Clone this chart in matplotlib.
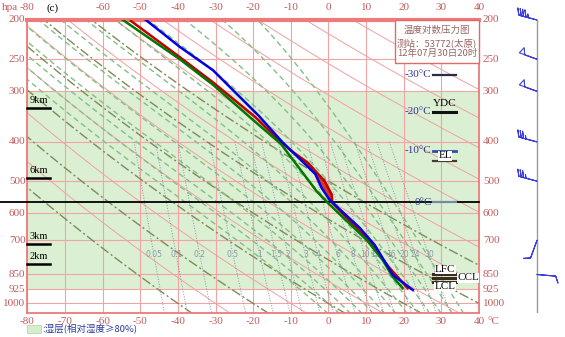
import numpy as np
import matplotlib
matplotlib.use("Agg")
import matplotlib.pyplot as plt
from matplotlib.patches import Rectangle
from matplotlib import transforms as mtransforms
from matplotlib.ticker import NullLocator

# sounding (p in hPa, T in degC)
P_RED = [201, 247, 285, 347, 395, 420, 450, 500, 540, 565, 684, 818, 918]
T_RED = [-52.5, -39.5, -30.7, -19.5, -13.3, -10.0, -5.5, -1.0, 0.9, 1.0, 9.6, 16.2, 21.0]
P_GREEN = [200, 250, 289, 350, 405, 530, 563, 699, 783, 862, 918]
T_GREEN = [-54.6, -39.5, -30.7, -20.5, -12.6, -3.1, -0.4, 10.2, 14.4, 17.1, 19.7]
P_BLUE = [200, 233, 266, 345, 400, 480, 520, 556, 652, 719, 852, 928]
T_BLUE = [-48.5, -39.5, -30.7, -18.5, -12.3, -3.5, -1.8, 0.3, 8.3, 12.3, 17.1, 22.4]

# winds
P_WIND = [200, 250, 300, 400, 500, 700, 850]
SPD_WIND = [18, 20, 20, 14, 14, 4, 4]
DIR_WIND = [285, 290, 290, 285, 285, 200, 95]

# chart furniture
P_GRID = [200, 250, 300, 400, 500, 600, 700, 850, 925, 1000]
T_GRID = list(range(-80, 41, 10))
TOP_LABELS = [-80, -60, -50, -40, -30, -20, -10, 0, 10, 20, 30, 40]
THETA_PINK = list(range(243, 504, 20))
THETA_OLIVE = list(range(233, 334, 20))
T0_MOIST = list(range(0, 37, 3))
W_MIX = [0.05, 0.1, 0.2, 0.5, 1, 1.5, 2, 3, 4, 6, 8, 10, 12, 16, 20, 24, 30]
W_LABELS = ["0.05", "0.1", "0.2", "0.5", "1", "1.5", "2", "3", "4", "6", "8", "10", "12", "16", "20", "24", "30"]
WET_LAYER = (925, 300)
P_ZERO = 563
HEIGHTS = [("9km", 330), ("6km", 491), ("3km", 715), ("2km", 801)]

W, H = 565, 337
L, R, TOP, BOT = 27.4, 479, 20, 313
P_BOT = 1058
RED_TXT = "#c25b5b"
SERIF = "Liberation Serif"
CJK = ["Noto Sans CJK SC", "DejaVu Sans"]


def fx(x):
    return x / W


def fy(y):
    return 1 - y / H


def moist_adiabats(t0, p):
    Rd, Cp, Lv, eps = 287.04, 1004.6, 2.501e6, 0.622

    def f(tk, lp):
        pp = np.exp(lp)
        es = 6.112 * np.exp(17.67 * (tk - 273.15) / (tk - 29.65))
        rs = eps * es / (pp - es)
        return (Rd * tk + Lv * rs) / (Cp + Lv ** 2 * rs * eps / (Rd * tk ** 2))

    lnp = np.log(p)
    out = np.empty((len(p), len(t0)))
    tk = np.asarray(t0, float) + 273.15
    out[0] = tk
    for i in range(len(p) - 1):
        h = lnp[i + 1] - lnp[i]
        k1 = f(tk, lnp[i])
        k2 = f(tk + h / 2 * k1, lnp[i] + h / 2)
        k3 = f(tk + h / 2 * k2, lnp[i] + h / 2)
        k4 = f(tk + h * k3, lnp[i + 1])
        tk = tk + h / 6 * (k1 + 2 * k2 + 2 * k3 + k4)
        out[i + 1] = tk
    return out - 273.15


def mixing_line(w, p):
    e = w * 1e-3 * p / (0.622 + w * 1e-3)
    x = np.log(e / 6.112)
    td = 243.5 * x / (17.67 - x)
    ice = 272.62 * x / (22.46 - x)
    return np.where(td < 0, ice, td)


fig = plt.figure(figsize=(W / 100, H / 100), dpi=100)
ax = fig.add_axes([fx(L), fy(BOT), (R - L) / W, (BOT - TOP) / H])
ax.set_yscale("log")
ax.set_ylim(P_BOT, 200)
ax.set_xlim(-80, 40)
ax.set_xticks([])
ax.set_yticks([])
ax.yaxis.set_minor_locator(NullLocator())
for s in ax.spines.values():
    s.set_color("#ee7a7a")
    s.set_linewidth(1.3)
ax.spines["top"].set_linewidth(3)

# wet layer
ax.axhspan(*WET_LAYER, color="#dbf0d3", lw=0, zorder=0)

# grid
for t in T_GRID:
    ax.axvline(t, color="#f2a4a4", lw=0.8, zorder=1)
for p in P_GRID:
    ax.axhline(p, color="#f2a4a4", lw=0.8, zorder=1)

# dry adiabats
pp = np.geomspace(P_BOT + 5, 195, 200)
for th in THETA_PINK:
    ax.plot(th * (pp / 1000) ** 0.2857 - 273.15, pp, color="#f0a0a0", lw=0.7, zorder=1)
for th in THETA_OLIVE:
    ax.plot(th * (pp / 1000) ** 0.2857 - 273.15, pp, color="#7f8a58", lw=1.0,
            dashes=(7, 2, 1.5, 2), zorder=1.5)

# moist adiabats
tm = moist_adiabats(T0_MOIST, pp)
ax.plot(tm, pp, color="#84bf84", lw=1.0, dashes=(4, 2.5), zorder=1.5)

# mixing ratio lines
pm = np.geomspace(400, P_BOT + 5, 60)
for w, lab in zip(W_MIX, W_LABELS):
    ax.plot(mixing_line(w, pm), pm, color="#8393a3", lw=0.7, ls=":", zorder=1.6)
    ax.text(mixing_line(w, np.array([760.0]))[0], 760, lab, fontsize=5.5,
            color="#8a98a6", ha="center", va="center", zorder=1.7)

# 0 degC level line (extends into left margin)
ax.plot([-80 - L / 3.767, 40], [P_ZERO, P_ZERO], color="black", lw=1.3,
        clip_on=False, zorder=3)

# sounding curves with shaded area
pf = np.geomspace(400, 575, 80)
tr = np.interp(np.log(pf), np.log(P_RED), T_RED)
tb = np.interp(np.log(pf), np.log(P_BLUE), T_BLUE)
ax.fill_betweenx(pf, tb, tr, where=tr > tb, color="#d23a22", lw=0, zorder=3.5)
ax.plot(T_RED, P_RED, color="#c00000", lw=1.8, zorder=4)
ax.plot(T_GREEN, P_GREEN, color="#007800", lw=1.8, zorder=4.1)
ax.plot(T_BLUE, P_BLUE, color="#0000e0", lw=1.8, zorder=4.2)

# height markers
for lab, p in HEIGHTS:
    ax.plot([-80, -74], [p, p], color="black", lw=1.8, clip_on=False, zorder=5)
    ax.text(-79.4, p * 0.985, lab, fontsize=7.5, family=SERIF, color="black",
            ha="left", va="bottom", zorder=5)

# level markers on the right
mk = [(273, "#2b2b4a", 1.6), (337, "#111111", 2.2), (421, "#3050a8", 2.0),
      (446, "#4a3a30", 1.6), (P_ZERO, "#7a88a8", 1.6),
      (847, "#3a2a20", 2.2), (866, "#3a2a20", 2.2), (886, "#3a2a20", 2.2)]
for p, c, lw in mk:
    ax.plot([27.9, 34.0], [p, p], color=c, lw=lw, zorder=5)
for lab, p in [("-30°C", 273), ("-20°C", 337), ("-10°C", 421), ("0°C", P_ZERO)]:
    ax.text(27.4, p, lab, fontsize=8, family=SERIF, color="#2e3590",
            ha="right", va="center", zorder=5)
wb = dict(facecolor="white", edgecolor="none", pad=0.2)
ax.text(31.0, 322, "YDC", fontsize=8, family=SERIF, ha="center", va="center", zorder=5)
ax.text(31.0, 433, "EL", fontsize=8, family=SERIF, ha="center", va="center", zorder=5,
        bbox=wb)
ax.text(31.0, 826, "LFC", fontsize=8, family=SERIF, ha="center", va="center", zorder=5,
        bbox=wb)
ax.text(34.2, 866, "CCL", fontsize=8, family=SERIF, ha="left", va="center", zorder=5,
        bbox=wb)
ax.text(31.0, 910, "LCL", fontsize=8, family=SERIF, ha="center", va="center", zorder=5,
        bbox=wb)

# title box
fig.patches.append(Rectangle((fx(395), fy(63)), (479 - 395) / W, (63 - 20) / H,
                             transform=fig.transFigure, facecolor="white",
                             edgecolor="#e06a6a", lw=1.0, zorder=6))
for txt, y in [("温度对数压力图", 30), ("测站：53772(太原)", 43), ("12年07月30日20时", 53)]:
    fig.text(fx(437), fy(y), txt, fontsize=6.8, family=CJK, color="#9a6464",
             ha="center", va="center", zorder=7)

# axis labels
bt = mtransforms.blended_transform_factory(ax.transData, ax.transAxes)
for t in T_GRID:
    ax.text(t, -8 / 293, f"{t}", transform=bt, fontsize=8, family=SERIF,
            color=RED_TXT, ha="center", va="center", clip_on=False)
for t in TOP_LABELS:
    ax.text(t, 1 + 12 / 293, f"{t}", transform=bt, fontsize=8, family=SERIF,
            color=RED_TXT, ha="center", va="center", clip_on=False)
fig.text(fx(487), fy(321), "°C", fontsize=8, family=SERIF, color=RED_TXT,
         ha="left", va="center")
yt = mtransforms.blended_transform_factory(ax.transAxes, ax.transData)
for p in P_GRID:
    ax.text(-2 / 452, p, f"{p}", transform=yt, fontsize=8, family=SERIF,
            color=RED_TXT, ha="right", va="center", clip_on=False)
    ax.text(1 + 4 / 452, p, f"{p}", transform=yt, fontsize=8, family=SERIF,
            color=RED_TXT, ha="left", va="center", clip_on=False)
fig.text(fx(2), fy(8), "hpa", fontsize=8, family=SERIF, color=RED_TXT,
         ha="left", va="center", bbox=dict(facecolor="white", edgecolor="none", pad=0))
fig.text(fx(53), fy(8), "(c)", fontsize=8, family=SERIF, color="black",
         ha="center", va="center", bbox=dict(facecolor="white", edgecolor="none", pad=0.5))

# legend
fig.patches.append(Rectangle((fx(27), fy(333)), 14 / W, 8 / H, transform=fig.transFigure,
                             facecolor="#d5eecb", edgecolor="#b8d6ad", lw=0.6))
fig.text(fx(42), fy(329), ":湿层(相对湿度≥80%)", fontsize=6.8, family=CJK,
         color="#2a3a9a", ha="left", va="center")

# wind profile
axw = fig.add_axes([fx(490), fy(BOT), 75 / W, (BOT - TOP) / H])
axw.set_yscale("log")
axw.set_ylim(P_BOT, 200)
axw.set_xlim(0, 75)
axw.axis("off")
axw.plot([47, 47], [200, P_BOT], color="#9a9aa2", lw=1.0)
d = np.deg2rad(DIR_WIND)
u = -np.array(SPD_WIND) * np.sin(d)
v = -np.array(SPD_WIND) * np.cos(d)
axw.barbs(np.full(len(P_WIND), 47.0), P_WIND, u, v, length=5.2,
          sizes=dict(spacing=0.13, height=0.35, width=0.3),
          barb_increments=dict(half=2, full=4, flag=20), barbcolor="#3c3cdc",
          flagcolor="white", linewidth=0.8, clip_on=False, zorder=3)

fig.savefig("out.png", dpi=100)
